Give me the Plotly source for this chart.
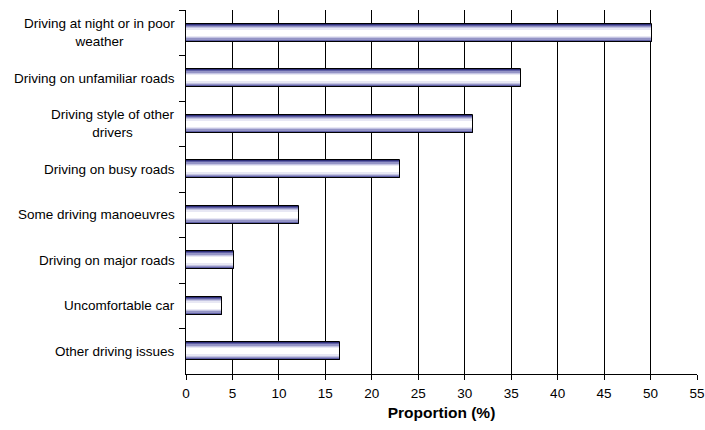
import plotly.graph_objects as go

# Reported driving concerns (top to bottom) and their proportions
categories = [
    "Driving at night or in poor<br>weather",
    "Driving on unfamiliar roads",
    "Driving style of other<br>drivers",
    "Driving on busy roads",
    "Some driving manoeuvres",
    "Driving on major roads",
    "Uncomfortable car",
    "Other driving issues",
]
proportions = [50.2, 36.1, 30.9, 23.0, 12.2, 5.2, 3.9, 16.6]
x_ticks = list(range(0, 60, 5))

FONT = "Liberation Sans, Arial, sans-serif"
BAR_WIDTH = 0.4

# Banded blue-to-white shading, drawn as stacked overlapping bars
shade_layers = [
    (1.00, "#2e2e78"),
    (0.88, "#6060a6"),
    (0.76, "#9494c6"),
    (0.62, "#c4c4e2"),
    (0.48, "#e8e8f4"),
    (0.34, "#ffffff"),
]

fig = go.Figure()

for frac, color in shade_layers:
    fig.add_trace(go.Bar(
        x=proportions,
        y=categories,
        orientation="h",
        width=BAR_WIDTH * frac,
        marker=dict(color=color, line=dict(width=0)),
        hoverinfo="skip",
        showlegend=False,
    ))

# Outline of each bar
fig.add_trace(go.Bar(
    x=proportions,
    y=categories,
    orientation="h",
    width=BAR_WIDTH,
    marker=dict(color="rgba(0,0,0,0)", line=dict(color="#000000", width=1)),
    hoverinfo="skip",
    showlegend=False,
))

# Category labels, centred line by line
for cat in categories:
    fig.add_annotation(
        x=0, xref="paper", y=cat, yref="y",
        text=cat, showarrow=False,
        xanchor="right", yanchor="middle", align="center", xshift=-9,
        font=dict(family=FONT, size=13.5, color="#000000"),
    )

fig.update_layout(
    width=705, height=430,
    margin=dict(l=186, r=8, t=10, b=56, autoexpand=False),
    paper_bgcolor="white", plot_bgcolor="white",
    barmode="overlay",
    bargap=0,
    font=dict(family=FONT, size=13.5, color="#000000"),
    xaxis=dict(
        range=[0, 55],
        tickvals=x_ticks,
        ticks="outside", ticklen=5, tickcolor="#000000", tickwidth=1,
        ticklabelstandoff=2,
        showgrid=True, gridcolor="#000000", gridwidth=1,
        showline=True, linecolor="#000000", linewidth=1,
        zeroline=False,
        automargin=False,
        tickfont=dict(family=FONT, size=13.5, color="#000000"),
        title=dict(text="<b>Proportion (%)</b>", standoff=6,
                   font=dict(family=FONT, size=15.5, color="#000000")),
    ),
    yaxis=dict(
        autorange="reversed",
        showticklabels=False,
        tickson="boundaries",
        ticks="outside", ticklen=6, tickcolor="#000000", tickwidth=1,
        showgrid=False,
        showline=True, linecolor="#000000", linewidth=1,
        zeroline=False,
        automargin=False,
    ),
)

fig.write_html("out.html")
